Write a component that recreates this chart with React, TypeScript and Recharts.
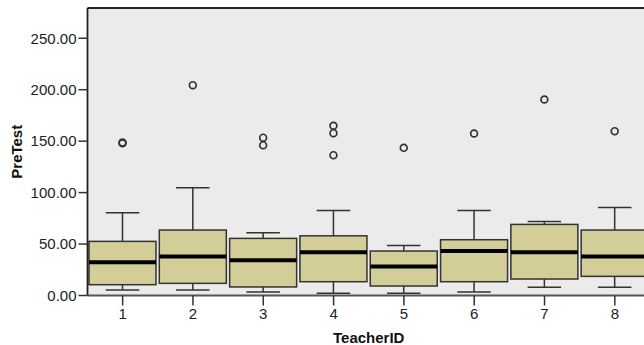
import React from "react";
import { ComposedChart, Bar, XAxis, YAxis, CartesianGrid, ReferenceLine } from "recharts";

// PreTest scores per teacher, five-number summary plus outliers
const teachers = ["1", "2", "3", "4", "5", "6", "7", "8"];
const lowerWhisker = [5.3, 5.3, 3.4, 2.1, 2.1, 3.4, 8.0, 8.0];
const q1 = [10.5, 11.8, 8.3, 13.4, 9.2, 13.4, 16.0, 18.6];
const median = [32.2, 38.0, 34.2, 42.0, 28.3, 43.2, 42.0, 38.0];
const q3 = [52.6, 63.6, 55.5, 58.0, 43.2, 54.2, 69.1, 63.6];
const upperWhisker = [80.4, 104.7, 61.0, 82.7, 48.7, 82.7, 72.0, 85.6];
const outliers = [
  [148.0, 148.8],
  [204.4],
  [146.1, 153.4],
  [136.4, 157.8, 165.0],
  [143.5],
  [157.5],
  [190.5],
  [159.7],
];
const yTicks = [0, 50, 100, 150, 200, 250];
const Y_MAX = 279.4;

const rows = teachers.map((t, i) => ({
  teacher: t,
  box: [q1[i], q3[i]],
  lower: lowerWhisker[i],
  q1: q1[i],
  median: median[i],
  q3: q3[i],
  upper: upperWhisker[i],
  outliers: outliers[i],
}));

const FONT = "'Liberation Sans', Arial, sans-serif";
const INK = "#333";
const BOX_FILL = "#d3ce97";

// the bar covers q1..q3; whiskers, median and outliers are placed with the
// same pixels-per-unit the bar was drawn with
const BoxShape = (props: any) => {
  const { x, y, width, height, payload } = props;
  const top = Math.min(y, y + height);
  const h = Math.abs(height);
  const ppu = h / (payload.q3 - payload.q1);
  const py = (v: number) => top + (payload.q3 - v) * ppu;
  const cx = x + width / 2;
  const cap = width / 4;
  return (
    <g>
      <line x1={cx} x2={cx} y1={py(payload.upper)} y2={top} stroke={INK} strokeWidth={1.5} />
      <line x1={cx} x2={cx} y1={top + h} y2={py(payload.lower)} stroke={INK} strokeWidth={1.5} />
      <line x1={cx - cap} x2={cx + cap} y1={py(payload.upper)} y2={py(payload.upper)} stroke={INK} strokeWidth={1.5} />
      <line x1={cx - cap} x2={cx + cap} y1={py(payload.lower)} y2={py(payload.lower)} stroke={INK} strokeWidth={1.5} />
      <rect x={x} y={top} width={width} height={h} fill={BOX_FILL} stroke={INK} strokeWidth={1.5} />
      <line x1={x} x2={x + width} y1={py(payload.median)} y2={py(payload.median)} stroke="#000" strokeWidth={4} />
      {payload.outliers.map((v: number, k: number) => (
        <circle key={k} cx={cx} cy={py(v)} r={3.4} fill="none" stroke={INK} strokeWidth={1.7} />
      ))}
    </g>
  );
};

export default function App() {
  return (
    <div style={{ position: "fixed", left: 0, top: 0, width: 644, height: 345, overflow: "hidden", background: "#fff" }}>
      <ComposedChart
        width={652}
        height={345}
        data={rows}
        margin={{ top: 8, right: 2, bottom: 0, left: 0 }}
        barCategoryGap={1.5}
      >
        <CartesianGrid horizontal={false} vertical={false} fill="#ebebeb" />
        <XAxis
          dataKey="teacher"
          height={49.5}
          tickSize={10}
          tickMargin={3}
          axisLine={{ stroke: "#555", strokeWidth: 2 }}
          tickLine={{ stroke: INK, strokeWidth: 1.5 }}
          tick={{ fontSize: 15, fill: "#222", fontFamily: FONT }}
          label={{
            content: ({ viewBox }: any) => (
              <text x={viewBox.x + viewBox.width / 2} y={343} textAnchor="middle" fontSize={15} fontWeight="bold" fontFamily={FONT} fill="#111">
                TeacherID
              </text>
            ),
          }}
        />
        <YAxis
          domain={[0, Y_MAX]}
          ticks={yTicks}
          allowDataOverflow
          width={87.5}
          tickSize={9}
          tickMargin={2}
          tickFormatter={(v: number) => v.toFixed(2)}
          axisLine={{ stroke: "#222", strokeWidth: 1.8 }}
          tickLine={{ stroke: INK, strokeWidth: 1.5 }}
          tick={{ fontSize: 15, fill: "#222", fontFamily: FONT }}
          label={{
            content: ({ viewBox }: any) => {
              const cy = viewBox.y + viewBox.height / 2;
              return (
                <text x={16.5} y={cy} transform={`rotate(-90, 16.5, ${cy})`} textAnchor="middle" dominantBaseline="central" fontSize={15} fontWeight="bold" fontFamily={FONT} fill="#111">
                  PreTest
                </text>
              );
            },
          }}
        />
        {/* frame along the top of the plot */}
        <ReferenceLine y={Y_MAX} stroke="#222" strokeWidth={2} />
        <Bar dataKey="box" shape={BoxShape} isAnimationActive={false} />
      </ComposedChart>
    </div>
  );
}
